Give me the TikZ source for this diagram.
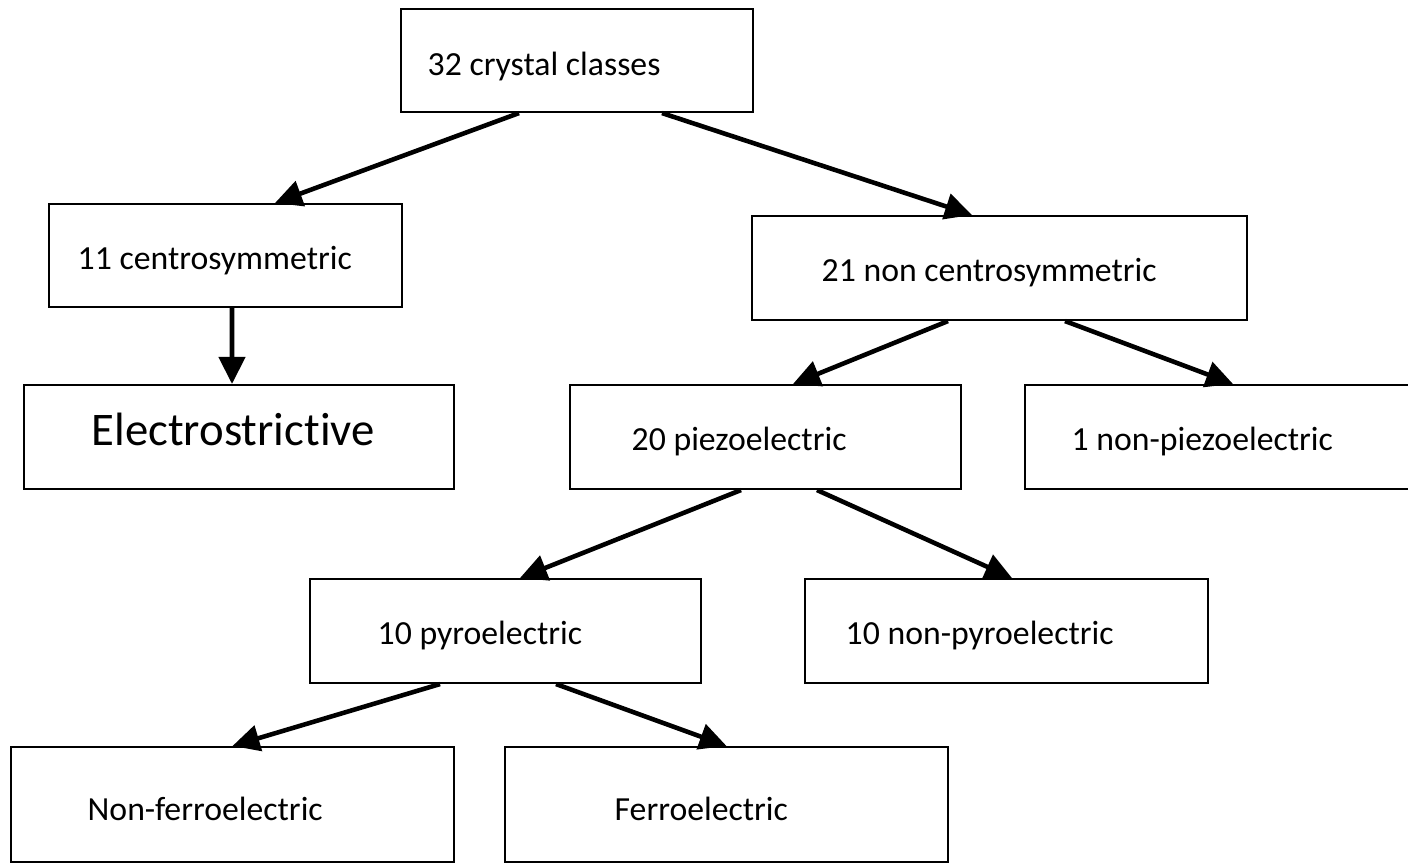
\documentclass[tikz,border=0pt]{standalone}
\usepackage{fontspec}
\setmainfont{Carlito}[Ligatures=NoCommon]
\usepackage{xcolor}
\usepackage{tikz}
\usetikzlibrary{arrows.meta}

\begin{document}
\begin{tikzpicture}[
        box/.style={draw, line width=0.6pt, inner sep=0pt, minimum height=1.04cm},
        txt/.style={anchor=base west, inner sep=0pt, font=\fontsize{9.6}{11}\selectfont},
        arr/.style={-{Triangle[length=0.27cm,width=0.26cm]}, line width=1.3pt}
    ]
        \useasboundingbox (0,0) rectangle (14.08,-8.65);

        % --- TOP ---
        \node[box, minimum width=3.52cm, minimum height=1.03cm] (crystal) at (5.77,-0.605) {};
        \node[txt] (crystalT) at (4.27,-0.75) {32 crystal classes};

        % --- SECOND ROW ---
        \node[box, minimum width=3.53cm, minimum height=1.03cm] (centro) at (2.255,-2.555) {};
        \node[txt] (centroT) at (0.77,-2.69) {11 centrosymmetric};
        \node[box, minimum width=4.95cm] (noncentro) at (9.995,-2.68) {};
        \node[txt] (noncentroT) at (8.21,-2.815) {21 non centrosymmetric};

        % --- THIRD ROW ---
        \node[box, minimum width=4.30cm] (electro) at (2.39,-4.37) {};
        \node[txt, font=\fontsize{13.3}{15}\selectfont] (electroT) at (0.91,-4.45) {Electrostrictive};
        \node[box, minimum width=3.91cm] (piezo) at (7.655,-4.37) {};
        \node[txt] (piezoT) at (6.31,-4.50) {20 piezoelectric};
        \node[box, minimum width=3.95cm] (nonpiezo) at (12.225,-4.37) {};
        \node[txt] (nonpiezoT) at (10.71,-4.50) {1 non-piezoelectric};

        % --- FOURTH ROW ---
        \node[box, minimum width=3.91cm] (pyro) at (5.055,-6.31) {};
        \node[txt] (pyroT) at (3.77,-6.44) {10 pyroelectric};
        \node[box, minimum width=4.03cm] (nonpyro) at (10.065,-6.31) {};
        \node[txt] (nonpyroT) at (8.45,-6.44) {10 non-pyroelectric};

        % --- BOTTOM ROW ---
        \node[box, minimum width=4.43cm, minimum height=1.15cm] (nonferro) at (2.325,-8.045) {};
        \node[txt] (nonferroT) at (0.87,-8.20) {Non-ferroelectric};
        \node[box, minimum width=4.43cm, minimum height=1.15cm] (ferro) at (7.265,-8.045) {};
        \node[txt] (ferroT) at (6.14,-8.20) {Ferroelectric};

        % --- ARROWS ---
        \draw[arr] ([xshift=-0.58cm]crystal.south) -- ([xshift=0.495cm]centro.north);
        \draw[arr] ([xshift=0.85cm]crystal.south) -- ([xshift=-0.275cm]noncentro.north);
        \draw[arr] ([xshift=0.065cm]centro.south) -- ([xshift=-0.07cm]electro.north);
        \draw[arr] ([xshift=-0.515cm]noncentro.south) -- ([xshift=0.275cm]piezo.north);
        \draw[arr] ([xshift=0.655cm]noncentro.south) -- ([xshift=0.105cm]nonpiezo.north);
        \draw[arr] ([xshift=-0.245cm]piezo.south) -- ([xshift=0.145cm]pyro.north);
        \draw[arr] ([xshift=0.515cm]piezo.south) -- ([xshift=0.055cm]nonpyro.north);
        \draw[arr] ([xshift=-0.655cm]pyro.south) -- (nonferro.north);
        \draw[arr] ([xshift=0.505cm]pyro.south) -- (ferro.north);
    \end{tikzpicture}
\end{document}
